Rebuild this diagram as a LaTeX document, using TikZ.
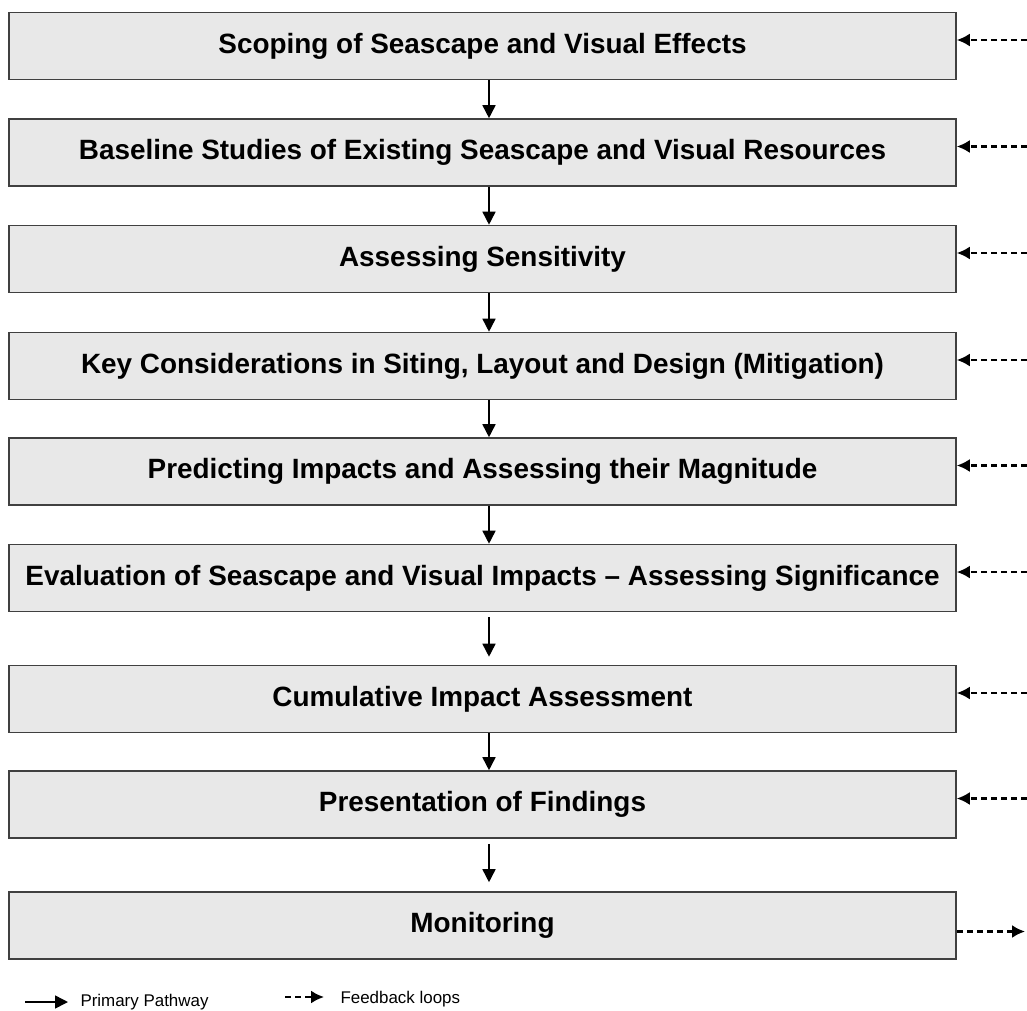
\documentclass[tikz,border=0pt]{standalone}
\usepackage{fontspec}
\setmainfont{Liberation Sans}
\usepackage{tikz}
\usetikzlibrary{arrows.meta}

\begin{document}
\begin{tikzpicture}[x=1bp, y=-1bp,
    stage/.style={draw=black!75, line width=1.6bp, fill=boxgray, minimum width=947bp, minimum height=67bp, inner sep=0pt, font=\bfseries\fontsize{28}{32}\selectfont},
    primary/.style={line width=1.6bp, -{Triangle[length=13bp,width=13bp]}},
    feedback/.style={line width=2.2bp, dash pattern=on 6bp off 4bp, -{Latex[length=13bp,width=13bp]}},
    legend/.style={font=\fontsize{17}{20}\selectfont, anchor=base west}]
    \definecolor{boxgray}{rgb}{0.91,0.91,0.91}
    % Fix the page size
    \useasboundingbox (0,0) rectangle (1027,1011);

    % Draw the stages
    \node[stage] (scope) at (482.5,46) {Scoping of Seascape and Visual Effects};
    \node[stage] (baseline) at (482.5,152.5) {Baseline Studies of Existing Seascape and Visual Resources};
    \node[stage] (sens) at (482.5,259) {Assessing Sensitivity};
    \node[stage] (siting) at (482.5,366) {Key Considerations in Siting, Layout and Design (Mitigation)};
    \node[stage] (predict) at (482.5,471.5) {Predicting Impacts and Assessing their Magnitude};
    \node[stage] (evaluate) at (482.5,578) {Evaluation of Seascape and Visual Impacts – Assessing Significance};
    \node[stage] (cumul) at (482.5,699) {Cumulative Impact Assessment};
    \node[stage] (present) at (482.5,804.5) {Presentation of Findings};
    \node[stage] (monitor) at (482.5,925.5) {Monitoring};

    % Column of the primary arrows, right edge for the feedback loops
    \coordinate (spine) at (489,0);
    \coordinate (edge) at (1027,0);

    % Draw the primary pathway
    \draw[primary] (scope.south -| spine) -- (baseline.north -| spine);
    \draw[primary] (baseline.south -| spine) -- (sens.north -| spine);
    \draw[primary] (sens.south -| spine) -- (siting.north -| spine);
    \draw[primary] (siting.south -| spine) -- (predict.north -| spine);
    \draw[primary] (predict.south -| spine) -- (evaluate.north -| spine);
    \draw[primary, shorten <=5bp, shorten >=8bp] (evaluate.south -| spine) -- (cumul.north -| spine);
    \draw[primary] (cumul.south -| spine) -- (present.north -| spine);
    \draw[primary, shorten <=5bp, shorten >=9bp] (present.south -| spine) -- (monitor.north -| spine);

    % Draw the feedback loops
    \foreach \s in {scope,baseline,sens,siting,predict,evaluate,cumul,present}{
        \path ([yshift=6bp]\s.east) coordinate (\s-fb);
        \draw[feedback] (\s-fb -| edge) -- (\s-fb);
    }
    \path ([yshift=-6bp]monitor.east) coordinate (monitor-fb);
    \draw[feedback] (monitor-fb) -- ([xshift=-2bp]monitor-fb -| edge);

    % Legend
    \coordinate (key-a) at (25,1002);
    \coordinate (key-b) at (68,1002);
    \coordinate (key-c) at (285,997);
    \coordinate (key-d) at (324,997);
    \draw[primary] (key-a) -- (key-b);
    \node[legend] (key-primary) at (77,1006.5) {Primary Pathway};
    \draw[feedback] (key-c) -- (key-d);
    \node[legend] (key-feedback) at (337,1003) {Feedback loops};
\end{tikzpicture}
\end{document}
